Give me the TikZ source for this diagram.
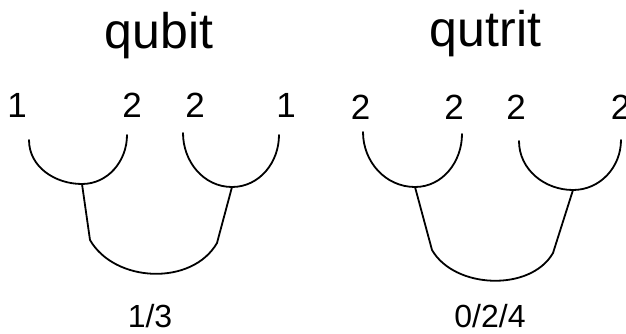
\documentclass[tikz,border=0pt]{standalone}
\usepackage{fontspec}
\setmainfont{Liberation Sans}
\usepackage{tikz}
\usetikzlibrary{positioning}
\usetikzlibrary{calc}

\begin{document}
\begin{tikzpicture}[x = 1pt, y = 1pt,
                    titleText/.style = {anchor = base, inner sep = 0pt, font = \fontsize{50}{60}\selectfont},
                    spinText/.style  = {anchor = base, inner sep = 0pt, font = \fontsize{35}{42}\selectfont},
                    sumText/.style   = {anchor = base, inner sep = 0pt, font = \fontsize{32}{38}\selectfont},
                    cupLine/.style   = {draw = black, line width = 1.8pt, line cap = round}]
    \useasboundingbox (0,0) rectangle (626,334);

    % qubit
    \node [titleText] (qubit) at (159,285) {qubit};
    \node [spinText] (qbSpin0) at ( 17,216) {1};
    \node [spinText] (qbSpin1) at (132,216) {2};
    \node [spinText] (qbSpin2) at (195,216) {2};
    \node [spinText] (qbSpin3) at (286,216) {1};
    \node [sumText]  (qbSum)   at (150,  6) {1/3};

    \coordinate (qbEnd0) at ( 29,194);
    \coordinate (qbEnd1) at (127,199);
    \coordinate (qbEnd2) at (183,201);
    \coordinate (qbEnd3) at (279,199);
    \coordinate (qbCupA) at ( 82,150);
    \coordinate (qbCupB) at (232,147);
    \coordinate (qbKneeA) at ( 90, 94);
    \coordinate (qbKneeB) at (217, 91);

    \draw [cupLine] (qbEnd0) to[out = -90, in = 180] (qbCupA) to[out = 0, in = -90] (qbEnd1);
    \draw [cupLine] (qbEnd2) to[out = -90, in = 180] (qbCupB) to[out = 0, in = -90] (qbEnd3);
    \draw [cupLine] (qbCupA) -- (qbKneeA) to[out = -60, in = -120] (qbKneeB) -- (qbCupB);

    % qutrit
    \node [titleText] (qutrit) at (485.5,287) {qutrit};
    \node [spinText] (qtSpin0) at (360.5,214) {2};
    \node [spinText] (qtSpin1) at (454,214) {2};
    \node [spinText] (qtSpin2) at (516,214) {2};
    \node [spinText] (qtSpin3) at (620.5,214) {2};
    \node [sumText]  (qtSum)   at (490,  6) {0/2/4};

    \coordinate (qtEnd0) at (363,202);
    \coordinate (qtEnd1) at (462,200);
    \coordinate (qtEnd2) at (519,193);
    \coordinate (qtEnd3) at (621,194);
    \coordinate (qtCupA) at (415,147);
    \coordinate (qtCupB) at (573,144);
    \coordinate (qtKneeA) at (432, 84);
    \coordinate (qtKneeB) at (553, 81);

    \draw [cupLine] (qtEnd0) to[out = -90, in = 180] (qtCupA) to[out = 0, in = -90] (qtEnd1);
    \draw [cupLine] (qtEnd2) to[out = -90, in = 180] (qtCupB) to[out = 0, in = -90] (qtEnd3);
    \draw [cupLine] (qtCupA) -- (qtKneeA) to[out = -60, in = -120, looseness = 0.95] (qtKneeB) -- (qtCupB);
\end{tikzpicture}
\end{document}
